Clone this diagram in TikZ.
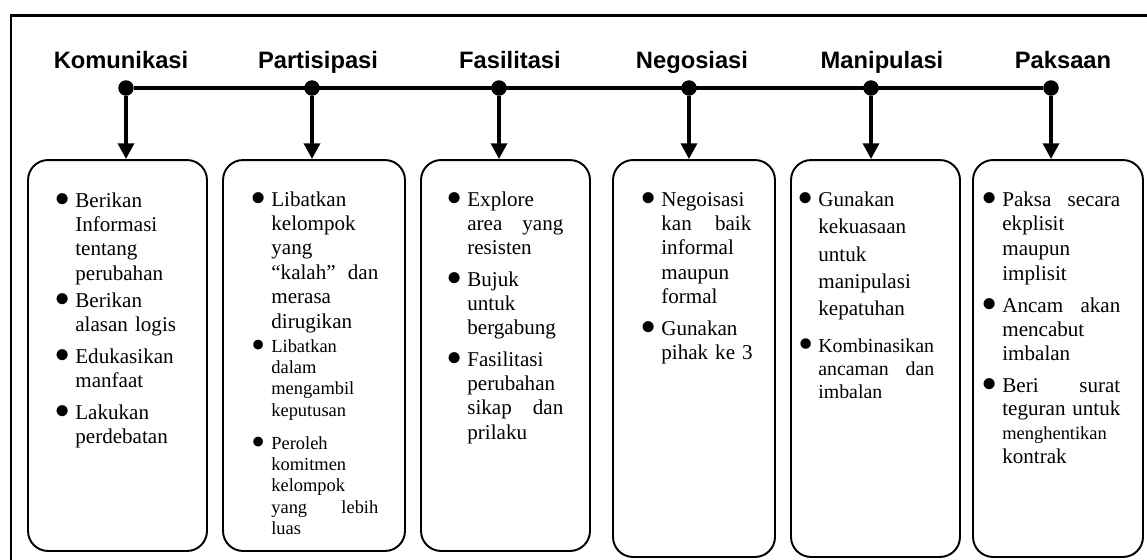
\documentclass[tikz,border=0pt]{standalone}
\usepackage{fontspec}
\setmainfont{Liberation Serif}
\setsansfont{Liberation Sans}
\usepackage{graphicx}
\usetikzlibrary{arrows.meta}
\hyphenpenalty=10000
\exhyphenpenalty=10000

\newcommand{\butir}{\leavevmode\llap{\makebox[12pt][c]{\raisebox{-0.34em}{\scalebox{2.2}{\textbullet}}}\hspace{1pt}}}

\begin{document}
\begin{tikzpicture}[x=0.02cm, y=-0.02cm,
    bingkai/.style={line width=1.7pt},
    judul/.style={anchor=base, font=\sffamily\bfseries\fontsize{13.5}{15}\selectfont},
    titik/.style={circle, fill=black, inner sep=0pt, minimum size=0.31cm},
    garis/.style={line width=2.3pt},
    panah/.style={line width=2.3pt, -{Triangle[length=9pt, width=9pt]}},
    kotak/.style={draw, line width=1.1pt, rounded corners=0.4cm, inner sep=0pt},
    isi/.style={anchor=base west, inner sep=0pt, align=left, font=\fontsize{12}{13.9}\selectfont},
    kecil/.style={font=\fontsize{10.5}{12.2}\selectfont}]
    \useasboundingbox (0,0) rectangle (1147,559);
    \clip (0,0) rectangle (1147,559);
    % --- outer frame ---
    \draw[bingkai] (11,15) rectangle (1170,590);

    % --- boxes ---
    \node[kotak, minimum width=3.58cm, minimum height=7.82cm] (b1) at (117.5,355.5) {};
    \node[kotak, minimum width=3.64cm, minimum height=7.82cm] (b2) at (314,355.5) {};
    \node[kotak, minimum width=3.38cm, minimum height=7.82cm] (b3) at (505.5,355.5) {};
    \node[kotak, minimum width=3.24cm, minimum height=7.94cm] (b4) at (694,358.5) {};
    \node[kotak, minimum width=3.38cm, minimum height=7.94cm] (b5) at (875.5,358.5) {};
    \node[kotak, minimum width=3.40cm, minimum height=7.94cm] (b6) at (1058,358.5) {};

    % --- headings ---
    \node[judul] (kom) at (121,68) {Komunikasi};
    \node[judul] (par) at (318,68) {Partisipasi};
    \node[judul] (fas) at (510,68) {Fasilitasi};
    \node[judul] (neg) at (692,68) {Negosiasi};
    \node[judul] (man) at (882,68) {Manipulasi};
    \node[judul] (pak) at (1063,68) {Paksaan};

    % --- bar, dots and arrows ---
    \node[titik] (t1) at (126,88) {};
    \node[titik] (t2) at (312,88) {};
    \node[titik] (t3) at (499,88) {};
    \node[titik] (t4) at (689,88) {};
    \node[titik] (t5) at (871,88) {};
    \node[titik] (t6) at (1051,88) {};
    \draw[garis] (t1) -- (t6);
    \draw[panah] (t1) -- (t1 |- b1.north);
    \draw[panah] (t2) -- (t2 |- b2.north);
    \draw[panah] (t3) -- (t3 |- b3.north);
    \draw[panah] (t4) -- (t4 |- b4.north);
    \draw[panah] (t5) -- (t5 |- b5.north);
    \draw[panah] (t6) -- (t6 |- b6.north);

    % --- Komunikasi ---
    \node[isi, text width=2.2cm] (k1) at (75,207) {\butir Berikan\\Informasi\\tentang\\perubahan};
    \node[isi, text width=2.2cm] (k2) at (75,307) {\butir Berikan\\alasan logis};
    \node[isi, text width=2.2cm] (k3) at (75,363) {\butir Edukasikan\\manfaat};
    \node[isi, text width=2.2cm] (k4) at (75,419) {\butir Lakukan\\perdebatan};

    % --- Partisipasi ---
    \node[isi, text width=2.14cm] (p1) at (271,206)
        {\butir Libatkan\\kelompok\\yang\\“kalah”\hfill dan\\merasa\\dirugikan};
    \node[isi, kecil, text width=2.14cm] (p2) at (271,352)
        {\butir Libatkan\\dalam\\mengambil\\keputusan};
    \begin{scope}
        \clip (223,160) rectangle (405,535);
        \node[isi, kecil, text width=2.14cm] (p3) at (271,449)
            {\butir Peroleh\\komitmen\\kelompok\\yang\hfill lebih\\luas};
    \end{scope}

    % --- Fasilitasi ---
    \node[isi, text width=1.92cm] (f1) at (467,206) {\butir Explore\\area\hfill yang\\resisten};
    \node[isi, text width=1.92cm] (f2) at (467,286) {\butir Bujuk\\untuk\\bergabung};
    \node[isi, text width=1.92cm] (f3) at (467,366)
        {\butir Fasilitasi\\perubahan\\sikap\hfill dan\\prilaku};

    % --- Negosiasi ---
    \node[isi, text width=1.8cm] (n1) at (661,206)
        {\butir Negoisasi\\kan\hfill baik\\informal\\maupun\\formal};
    \node[isi, text width=1.8cm] (n2) at (661,335) {\butir Gunakan\\\mbox{pihak ke 3}};

    % --- Manipulasi ---
    \node[isi, font=\fontsize{12}{15.65}\selectfont, text width=2.32cm] (m1) at (818,206)
        {\butir Gunakan\\kekuasaan\\untuk\\manipulasi\\kepatuhan};
    \node[isi, font=\fontsize{11.3}{13.1}\selectfont, text width=2.32cm] (m2) at (818,352)
        {\butir Kombinasikan\\ancaman\hfill dan\\imbalan};

    % --- Paksaan ---
    \node[isi, font=\fontsize{12}{14.2}\selectfont, text width=2.36cm] (s1) at (1002,206)
        {\butir Paksa\hfill secara\\ekplisit\\maupun\\implisit};
    \node[isi, text width=2.36cm] (s2) at (1002,312) {\butir Ancam\hfill akan\\mencabut\\imbalan};
    \node[isi, font=\fontsize{12}{13.65}\selectfont, text width=2.36cm] (s3) at (1002,392)
        {\butir Beri\hfill surat\\teguran\hfill untuk\\{\fontsize{10.5}{12}\selectfont menghentikan}\\kontrak};
\end{tikzpicture}
\end{document}
